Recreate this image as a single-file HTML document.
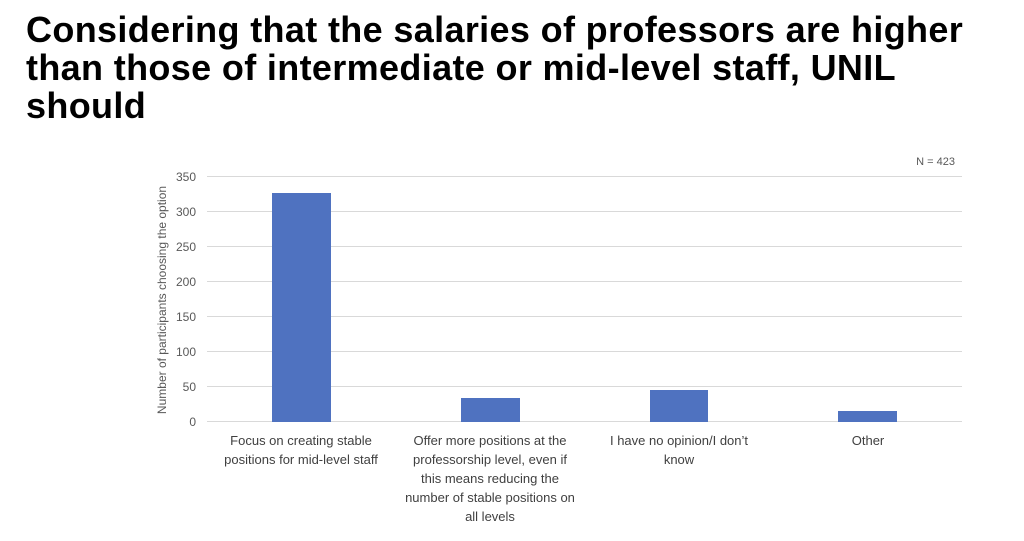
<!DOCTYPE html>
<html><head><style>
body{margin:0;width:1024px;height:541px;background:#fff;overflow:hidden;font-family:"Liberation Sans",sans-serif;}
h1{position:absolute;left:26px;top:11px;margin:0;font-size:36px;line-height:38px;font-weight:bold;color:#000;width:1000px;letter-spacing:0.35px}
</style></head><body>
<h1>Considering that the salaries of professors are higher<br>than those of intermediate or mid-level staff, UNIL<br>should</h1>
<svg width="1024" height="541" style="position:absolute;left:0;top:0" font-family="Liberation Sans, sans-serif">
<g stroke="#d9d9d9" stroke-width="1">
<line x1="207" x2="962" y1="176.5" y2="176.5"/>
<line x1="207" x2="962" y1="211.5" y2="211.5"/>
<line x1="207" x2="962" y1="246.5" y2="246.5"/>
<line x1="207" x2="962" y1="281.5" y2="281.5"/>
<line x1="207" x2="962" y1="316.5" y2="316.5"/>
<line x1="207" x2="962" y1="351.5" y2="351.5"/>
<line x1="207" x2="962" y1="386.5" y2="386.5"/>
<line x1="207" x2="962" y1="421.5" y2="421.5"/>
</g>
<g fill="#595959" font-size="12" text-anchor="end">
<text x="196" y="181">350</text><text x="196" y="216">300</text><text x="196" y="251">250</text>
<text x="196" y="286">200</text><text x="196" y="321">150</text><text x="196" y="356">100</text>
<text x="196" y="391">50</text><text x="196" y="426">0</text>
</g>
<text transform="translate(166,300) rotate(-90)" text-anchor="middle" fill="#595959" font-size="12">Number of participants choosing the option</text>
<text x="955" y="165" text-anchor="end" fill="#595959" font-size="11">N = 423</text>
<g fill="#4f72c0">
<rect x="272" y="193" width="59" height="229"/>
<rect x="461" y="398" width="59" height="24"/>
<rect x="650" y="390" width="58" height="32"/>
<rect x="838" y="411" width="59" height="11"/>
</g>
<g fill="#404040" font-size="13" text-anchor="middle">
<text x="301" y="445">Focus on creating stable</text><text x="301" y="464">positions for mid-level staff</text>
<text x="490" y="445">Offer more positions at the</text><text x="490" y="464">professorship level, even if</text>
<text x="490" y="483">this means reducing the</text><text x="490" y="502">number of stable positions on</text>
<text x="490" y="521">all levels</text>
<text x="679" y="445">I have no opinion/I don’t</text><text x="679" y="464">know</text>
<text x="868" y="445">Other</text>
</g>
</svg>
</body></html>
